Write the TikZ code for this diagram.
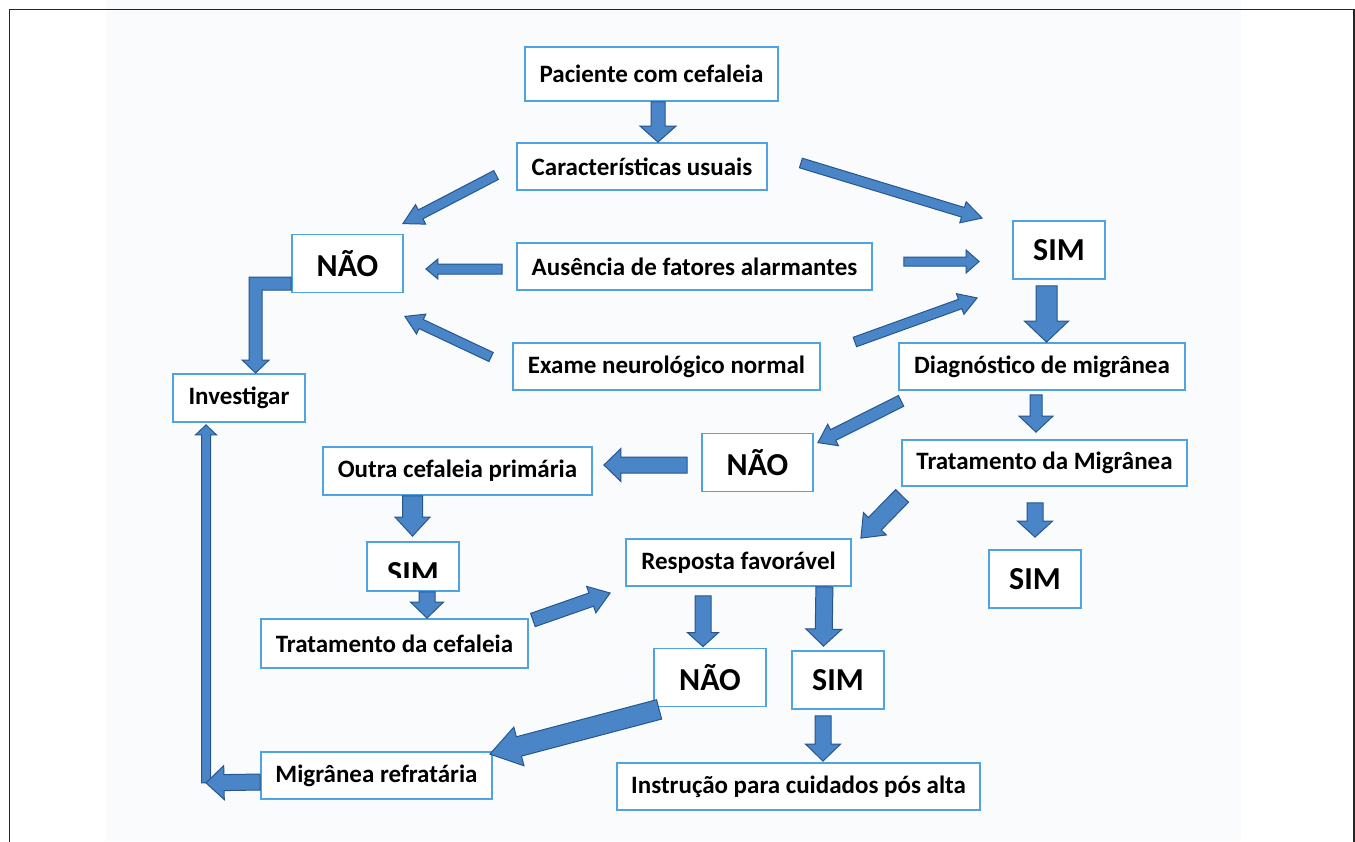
\documentclass[tikz,border=0pt]{standalone}
\usepackage{fontspec}
\setmainfont{Carlito}
\usetikzlibrary{calc}
\tikzset{
  box/.style    = {draw=boxBlue, line width=1.8pt, fill=white, inner sep=0pt,
                   font=\bfseries\fontsize{25}{29}\selectfont},
  ans/.style    = {box, font=\bfseries\fontsize{32}{36}\selectfont},
  barrow/.style = {fill=arrFill, draw=arrLine, line width=1pt, line join=miter},
  frame/.style  = {draw=black!85, line width=1.5pt}
}
\definecolor{boxBlue}{RGB}{79,163,226}
\definecolor{arrFill}{RGB}{74,134,199}
\definecolor{arrLine}{RGB}{38,86,140}
\definecolor{bgTint}{RGB}{250,251,253}

% block arrow: tail, tip, half shaft, half head, head length
\newcommand\blockarrow[5]{%
  \path #1 coordinate (ba-t) #2 coordinate (ba-h);
  \path ($(ba-h)!#5!(ba-t)$) coordinate (ba-b);
  \filldraw[barrow] ($(ba-t)!#3!90:(ba-h)$) -- ($(ba-b)!#3!90:(ba-h)$)
    -- ($(ba-b)!#4!90:(ba-h)$) -- (ba-h) -- ($(ba-b)!#4!-90:(ba-h)$)
    -- ($(ba-b)!#3!-90:(ba-h)$) -- ($(ba-t)!#3!-90:(ba-h)$) -- cycle;
}

\begin{document}
\begin{tikzpicture}[x=1pt, y=-1pt]
    \useasboundingbox (0,0) rectangle (1355,841);
    % page frame
    \fill[bgTint] (106,0) rectangle (1241,841);
    \draw[frame] (9.5,9.5) rectangle (1354,860);

    % text boxes
    \foreach \n/\x/\y/\w/\h/\txt in {
      pac/651.5/74/253/54/Paciente com cefaleia,
      car/642/166.5/250/47/Características usuais,
      aus/694.5/266.5/355/47/Ausência de fatores alarmantes,
      inv/239/398/132/48/Investigar,
      exa/666.5/366.5/307/47/Exame neurológico normal,
      dia/1042/366.5/286/47/Diagnóstico de migrânea,
      tra/1044.5/463/285/46/Tratamento da Migrânea,
      out/457.5/471/269/48/Outra cefaleia primária,
      tce/394.5/643.5/267/49/Tratamento da cefaleia,
      res/738.5/562.5/225/47/Resposta favorável,
      ins/798.5/786.5/363/47/Instrução para cuidados pós alta,
      mig/376.5/775.5/231/47/Migrânea refratária}
      \node[box, minimum width=\w pt, minimum height=\h pt] (\n) at (\x,\y) {\txt};

    % answer boxes
    \foreach \n/\x/\y/\w/\txt in {
      nao1/347.5/263.5/111/NÃO, sim1/1059/250/92/SIM, nao2/757.5/462.5/111/NÃO,
      sim3/1035/579/92/SIM, nao3/710/677.5/112/NÃO, sim4/838/680/92/SIM}
      \node[ans, minimum width=\w pt, minimum height=58pt] (\n) at (\x,\y) {\txt};
    \node[ans, minimum width=92pt, minimum height=49pt] (sim2) at (413,566.5) {};
    \begin{scope}
      \clip (sim2.north west) rectangle ($(sim2.south east)+(0,-14)$);
      \node[font=\bfseries\fontsize{32}{36}\selectfont] (sim2txt)
        at ($(sim2.center)+(0,7)$) {SIM};
    \end{scope}

    % top part
    \blockarrow{($(pac.south)+(6.5,0)$)}{($(car.north)+(16,0)$)}{7pt}{18pt}{16pt}
    \blockarrow{($(car.west)+(-20,8.5)$)}{($(nao1.north east)+(-1,-10)$)}{5pt}{11pt}{20pt}
    \blockarrow{($(car.east)+(33,-3.5)$)}{($(sim1.north west)+(-30,-2)$)}{5pt}{11pt}{20pt}
    \blockarrow{($(aus.west)+(-14,2.5)$)}{($(nao1.east)+(22,5.5)$)}{5pt}{10pt}{12pt}
    \blockarrow{($(aus.east)+(31,-5)$)}{($(sim1.west)+(-33,11.5)$)}{4.5pt}{11.5pt}{13pt}
    \blockarrow{($(exa.west)+(-21,-9.5)$)}{($(nao1.south east)+(1,23)$)}{5pt}{11pt}{18pt}
    \blockarrow{($(exa.east)+(34,-24.5)$)}{($(sim1.south west)+(-35,18)$)}{5pt}{11pt}{18pt}

    % NAO to Investigar
    \filldraw[barrow] ($(nao1.west)+(0,13.5)$) -- ++(-42,0) -- ++(0,83) -- ++(-7,0)
      -- ++(13.5,13) -- ++(13.5,-13) -- ++(-7,0) -- ++(0,-70) -- ++(29,0) -- cycle;

    % migraine branch
    \blockarrow{($(sim1.south)+(-12.5,6)$)}{($(dia.north)+(4.5,0)$)}{10.5pt}{22pt}{21pt}
    \blockarrow{($(dia.south)+(-6,4)$)}{($(tra.north)+(-8.5,-7)$)}{6pt}{17pt}{16pt}
    \blockarrow{($(dia.south west)+(3,10)$)}{($(nao2.north east)+(4,10)$)}{6pt}{12pt}{17pt}
    \blockarrow{($(nao2.west)+(-14,2.5)$)}{($(out.east)+(11,-6)$)}{8pt}{16.5pt}{17pt}
    \blockarrow{($(out.south)+(-45,0)$)}{($(sim2.north)+(-0.5,-5)$)}{10pt}{17.5pt}{19pt}
    \blockarrow{($(sim2.south)+(14,0)$)}{($(tce.north)+(32.5,0)$)}{8pt}{16.5pt}{16pt}
    \blockarrow{($(tce.east)+(4,-23.5)$)}{($(res.west)+(-15,30.5)$)}{7pt}{14pt}{20pt}
    \blockarrow{($(tra.south west)+(1,9)$)}{($(res.north east)+(9,0)$)}{9pt}{16pt}{20pt}
    \blockarrow{($(tra.south)+(-9.5,16)$)}{($(sim3.north)+(0,-12)$)}{8pt}{17.5pt}{16pt}

    % response
    \blockarrow{($(res.south)+(-35.5,9)$)}{($(nao3.north)+(-7,-1)$)}{8pt}{15.5pt}{14pt}
    \blockarrow{($(res.south east)+(-27.5,0)$)}{($(sim4.north)+(-14.5,-4)$)}{8.5pt}{18pt}{17pt}
    \blockarrow{($(sim4.south)+(-15,6)$)}{($(ins.north)+(24.5,-1)$)}{8pt}{17.5pt}{17pt}
    \blockarrow{($(nao3.south west)+(6,2)$)}{($(mig.north east)+(-3,3)$)}{10pt}{20pt}{30pt}

    % back to Investigar
    \coordinate (ret) at ($(inv.south)+(-33,360)$);
    \blockarrow{(ret)}{($(inv.south)+(-33,2)$)}{4.5pt}{10.5pt}{10pt}
    \blockarrow{($(mig.west)+(0,6.5)$)}{(ret)}{8pt}{17pt}{18pt}
\end{tikzpicture}
\end{document}
